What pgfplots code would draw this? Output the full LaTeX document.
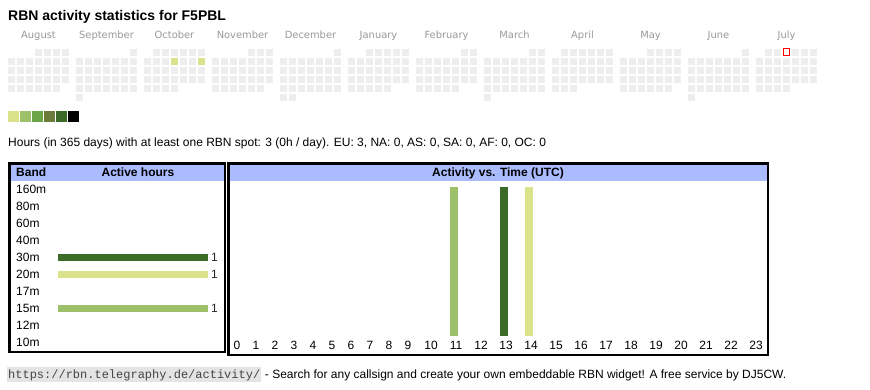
\documentclass[border=0pt]{standalone}
\usepackage{fontspec}
\setmainfont{Liberation Sans}
\newfontfamily\monofont{Liberation Mono}
\newfontfamily\monthfont{DejaVu Sans}
\usepackage{pgfplots}
\pgfplotsset{compat=1.18}
\definecolor{cellgrey}{HTML}{EEEEEE}
\definecolor{lvA}{HTML}{DAE28A}
\definecolor{lvB}{HTML}{9DC16B}
\definecolor{lvC}{HTML}{6BA548}
\definecolor{lvD}{HTML}{6B7B3A}
\definecolor{lvE}{HTML}{3C6A27}
\definecolor{lvF}{HTML}{000000}
\definecolor{hdr}{HTML}{AABBFF}
\definecolor{monthgrey}{HTML}{999999}
\definecolor{urlbg}{HTML}{E4E4E4}
\definecolor{urltext}{HTML}{444444}
\newcommand\fs[1]{\fontsize{#1}{#1}\selectfont}
\pgfplotsset{
  cell/.style={only marks, mark=square*, mark size=3.1pt, mark options={draw=#1, fill=#1, line width=0.4pt}},
  lgd/.style={only marks, mark=square*, mark size=4.8pt, mark options={draw=#1, fill=#1, line width=0.4pt}},
}
\begin{document}
\begin{tikzpicture}
\fill[white] (0pt,0pt) rectangle (870pt,-390pt);
\useasboundingbox (0pt,0pt) rectangle (870pt,-390pt);

% title
\node[anchor=base west, inner sep=0pt] at (8pt,-20.7pt) {\fs{14}\bfseries RBN activity statistics for F5PBL};

% month labels
\foreach \m/\name in {0/August,1/September,2/October,3/November,4/December,5/January,6/February,7/March,8/April,9/May,10/June,11/July}
  \node[anchor=base, inner sep=0pt, text=monthgrey] at ({(38.5+68*\m)*1pt},-38.7pt) {\monthfont\fs{9.9}\name};

% calendar heatmap (x = 68*month + 9*weekday, y = -9*week row)
\begin{axis}[at={(0pt,-127pt)}, anchor=south west, x=1pt, y=1pt,
  xmin=-11.5, xmax=858.5, ymin=-75, ymax=10, hide axis, clip=false]
\addplot[cell=cellgrey] table[row sep=\\, x expr=68*\thisrow{m}+9*\thisrow{c}, y expr=-9*\thisrow{r}] {
m c r\\
0 3 0\\0 4 0\\0 5 0\\0 6 0\\
0 0 1\\0 1 1\\0 2 1\\0 3 1\\0 4 1\\0 5 1\\0 6 1\\
0 0 2\\0 1 2\\0 2 2\\0 3 2\\0 4 2\\0 5 2\\0 6 2\\
0 0 3\\0 1 3\\0 2 3\\0 3 3\\0 4 3\\0 5 3\\0 6 3\\
0 0 4\\0 1 4\\0 2 4\\0 3 4\\0 4 4\\0 5 4\\
1 6 0\\
1 0 1\\1 1 1\\1 2 1\\1 3 1\\1 4 1\\1 5 1\\1 6 1\\
1 0 2\\1 1 2\\1 2 2\\1 3 2\\1 4 2\\1 5 2\\1 6 2\\
1 0 3\\1 1 3\\1 2 3\\1 3 3\\1 4 3\\1 5 3\\1 6 3\\
1 0 4\\1 1 4\\1 2 4\\1 3 4\\1 4 4\\1 5 4\\1 6 4\\
1 0 5\\
2 1 0\\2 2 0\\2 3 0\\2 4 0\\2 5 0\\2 6 0\\
2 0 1\\2 1 1\\2 2 1\\2 3 1\\2 4 1\\2 5 1\\2 6 1\\
2 0 2\\2 1 2\\2 2 2\\2 3 2\\2 4 2\\2 5 2\\2 6 2\\
2 0 3\\2 1 3\\2 2 3\\2 3 3\\2 4 3\\2 5 3\\2 6 3\\
2 0 4\\2 1 4\\2 2 4\\2 3 4\\
3 4 0\\3 5 0\\3 6 0\\
3 0 1\\3 1 1\\3 2 1\\3 3 1\\3 4 1\\3 5 1\\3 6 1\\
3 0 2\\3 1 2\\3 2 2\\3 3 2\\3 4 2\\3 5 2\\3 6 2\\
3 0 3\\3 1 3\\3 2 3\\3 3 3\\3 4 3\\3 5 3\\3 6 3\\
3 0 4\\3 1 4\\3 2 4\\3 3 4\\3 4 4\\3 5 4\\
4 6 0\\
4 0 1\\4 1 1\\4 2 1\\4 3 1\\4 4 1\\4 5 1\\4 6 1\\
4 0 2\\4 1 2\\4 2 2\\4 3 2\\4 4 2\\4 5 2\\4 6 2\\
4 0 3\\4 1 3\\4 2 3\\4 3 3\\4 4 3\\4 5 3\\4 6 3\\
4 0 4\\4 1 4\\4 2 4\\4 3 4\\4 4 4\\4 5 4\\4 6 4\\
4 0 5\\4 1 5\\
5 2 0\\5 3 0\\5 4 0\\5 5 0\\5 6 0\\
5 0 1\\5 1 1\\5 2 1\\5 3 1\\5 4 1\\5 5 1\\5 6 1\\
5 0 2\\5 1 2\\5 2 2\\5 3 2\\5 4 2\\5 5 2\\5 6 2\\
5 0 3\\5 1 3\\5 2 3\\5 3 3\\5 4 3\\5 5 3\\5 6 3\\
5 0 4\\5 1 4\\5 2 4\\5 3 4\\5 4 4\\
6 5 0\\6 6 0\\
6 0 1\\6 1 1\\6 2 1\\6 3 1\\6 4 1\\6 5 1\\6 6 1\\
6 0 2\\6 1 2\\6 2 2\\6 3 2\\6 4 2\\6 5 2\\6 6 2\\
6 0 3\\6 1 3\\6 2 3\\6 3 3\\6 4 3\\6 5 3\\6 6 3\\
6 0 4\\6 1 4\\6 2 4\\6 3 4\\6 4 4\\
7 5 0\\7 6 0\\
7 0 1\\7 1 1\\7 2 1\\7 3 1\\7 4 1\\7 5 1\\7 6 1\\
7 0 2\\7 1 2\\7 2 2\\7 3 2\\7 4 2\\7 5 2\\7 6 2\\
7 0 3\\7 1 3\\7 2 3\\7 3 3\\7 4 3\\7 5 3\\7 6 3\\
7 0 4\\7 1 4\\7 2 4\\7 3 4\\7 4 4\\7 5 4\\7 6 4\\
7 0 5\\
8 1 0\\8 2 0\\8 3 0\\8 4 0\\8 5 0\\8 6 0\\
8 0 1\\8 1 1\\8 2 1\\8 3 1\\8 4 1\\8 5 1\\8 6 1\\
8 0 2\\8 1 2\\8 2 2\\8 3 2\\8 4 2\\8 5 2\\8 6 2\\
8 0 3\\8 1 3\\8 2 3\\8 3 3\\8 4 3\\8 5 3\\8 6 3\\
8 0 4\\8 1 4\\8 2 4\\
9 3 0\\9 4 0\\9 5 0\\9 6 0\\
9 0 1\\9 1 1\\9 2 1\\9 3 1\\9 4 1\\9 5 1\\9 6 1\\
9 0 2\\9 1 2\\9 2 2\\9 3 2\\9 4 2\\9 5 2\\9 6 2\\
9 0 3\\9 1 3\\9 2 3\\9 3 3\\9 4 3\\9 5 3\\9 6 3\\
9 0 4\\9 1 4\\9 2 4\\9 3 4\\9 4 4\\9 5 4\\
10 6 0\\
10 0 1\\10 1 1\\10 2 1\\10 3 1\\10 4 1\\10 5 1\\10 6 1\\
10 0 2\\10 1 2\\10 2 2\\10 3 2\\10 4 2\\10 5 2\\10 6 2\\
10 0 3\\10 1 3\\10 2 3\\10 3 3\\10 4 3\\10 5 3\\10 6 3\\
10 0 4\\10 1 4\\10 2 4\\10 3 4\\10 4 4\\10 5 4\\10 6 4\\
10 0 5\\
11 1 0\\11 2 0\\11 3 0\\11 4 0\\11 5 0\\11 6 0\\
11 0 1\\11 1 1\\11 2 1\\11 3 1\\11 4 1\\11 5 1\\11 6 1\\
11 0 2\\11 1 2\\11 2 2\\11 3 2\\11 4 2\\11 5 2\\11 6 2\\
11 0 3\\11 1 3\\11 2 3\\11 3 3\\11 4 3\\11 5 3\\11 6 3\\
11 0 4\\11 1 4\\11 2 4\\11 3 4\\
};
% active days (October 10 and 13)
\addplot[cell=lvA] table[row sep=\\, x expr=68*\thisrow{m}+9*\thisrow{c}, y expr=-9*\thisrow{r}] {
m c r\\ 2 3 1\\ 2 6 1\\
};
% today
\addplot[only marks, mark=square*, mark size=3.3pt, mark options={draw=red, fill=white, line width=1pt}]
  table[row sep=\\, x expr=68*\thisrow{m}+9*\thisrow{c}, y expr=-9*\thisrow{r}] {
m c r\\ 11 3 0\\
};
% colour scale
\addplot[lgd=lvA] coordinates {(1.5,-64)};
\addplot[lgd=lvB] coordinates {(13.5,-64)};
\addplot[lgd=lvC] coordinates {(25.5,-64)};
\addplot[lgd=lvD] coordinates {(37.5,-64)};
\addplot[lgd=lvE] coordinates {(49.5,-64)};
\addplot[lgd=lvF] coordinates {(61.5,-64)};
\end{axis}

% info line
\node[anchor=base west, inner sep=0pt] at (8pt,-146.5pt) {\fs{12}Hours (in 365 days) with at least one RBN spot: 3 (0h / day). EU: 3, NA: 0, AS: 0, SA: 0, AF: 0, OC: 0};

% table frames and headers
\fill[hdr] (10.5pt,-165pt) rectangle (223.5pt,-181pt);
\fill[hdr] (229.5pt,-165pt) rectangle (766.5pt,-181pt);
\draw[line width=2.5pt] (9.25pt,-163.75pt) rectangle (224.75pt,-351.75pt);
\draw[line width=2.5pt] (228.25pt,-163.75pt) rectangle (767.75pt,-354.75pt);
\node[anchor=base west, inner sep=0pt] at (16pt,-177pt) {\fs{12}\bfseries Band};
\node[anchor=base, inner sep=0pt] at (138pt,-177pt) {\fs{12}\bfseries Active hours};
\node[anchor=base, inner sep=0pt] at (498pt,-177pt) {\fs{12}\bfseries Activity vs. Time (UTC)};

% active hours per band
\begin{axis}[at={(16pt,-351pt)}, anchor=south west, scale only axis,
  width=192pt, height=170pt, xmin=-0.28, xmax=1, ymin=-0.5, ymax=9.5,
  ytick={0,1,2,3,4,5,6,7,8,9},
  yticklabels={10m,12m,15m,17m,20m,30m,40m,60m,80m,160m},
  xtick=\empty, axis line style={draw=none}, tick style={draw=none},
  yticklabel style={anchor=west, inner sep=0pt, font=\fs{12}},
  clip=false, /pgf/number format/assume math mode=true,
  nodes near coords style={font=\fs{12}, text=black!85, inner sep=3pt}]
\addplot[xbar, bar width=7pt, bar shift=0pt, fill=lvE, draw=none, nodes near coords, nodes near coords align={horizontal}] coordinates {(1,5)};
\addplot[xbar, bar width=7pt, bar shift=0pt, fill=lvA, draw=none, nodes near coords, nodes near coords align={horizontal}] coordinates {(1,4)};
\addplot[xbar, bar width=7pt, bar shift=0pt, fill=lvB, draw=none, nodes near coords, nodes near coords align={horizontal}] coordinates {(1,2)};
\end{axis}

% activity vs time
\begin{axis}[at={(227.5pt,-335.5pt)}, anchor=south west, scale only axis,
  width=541pt, height=148.5pt, xmin=227.5, xmax=768.5, ymin=0, ymax=1,
  x filter/.expression={x<9.75 ? 237+19*x : 431+25*(x-10)},
  xtick={237,256,275,294,313,332,351,370,389,408,431,456,481,506,531,556,581,606,631,656,681,706,731,756},
  xticklabels={0,1,2,3,4,5,6,7,8,9,10,11,12,13,14,15,16,17,18,19,20,21,22,23},
  ytick=\empty, axis line style={draw=none}, tick style={draw=none},
  xticklabel style={anchor=base, yshift=-13.5pt, font=\fs{12}},
  clip=false]
\addplot[ybar, bar width=8pt, bar shift=-2.5pt, fill=lvB, draw=none] coordinates {(11,1)};
\addplot[ybar, bar width=8pt, bar shift=-2.5pt, fill=lvE, draw=none] coordinates {(13,1)};
\addplot[ybar, bar width=8pt, bar shift=-2.5pt, fill=lvA, draw=none] coordinates {(14,1)};
\end{axis}

% footer
\node (url) [anchor=base west, fill=urlbg, text=urltext, inner xsep=1pt, inner ysep=0pt, text height=11.5pt, text depth=3.5pt] at (7pt,-378pt) {\monofont\fs{12}https://rbn.telegraphy.de/activity/};
\node[anchor=base west, inner sep=0pt, xshift=3.3pt] at (url.base east) {\fs{12}- Search for any callsign and create your own embeddable RBN widget! A free service by DJ5CW.};
\end{tikzpicture}
\end{document}
